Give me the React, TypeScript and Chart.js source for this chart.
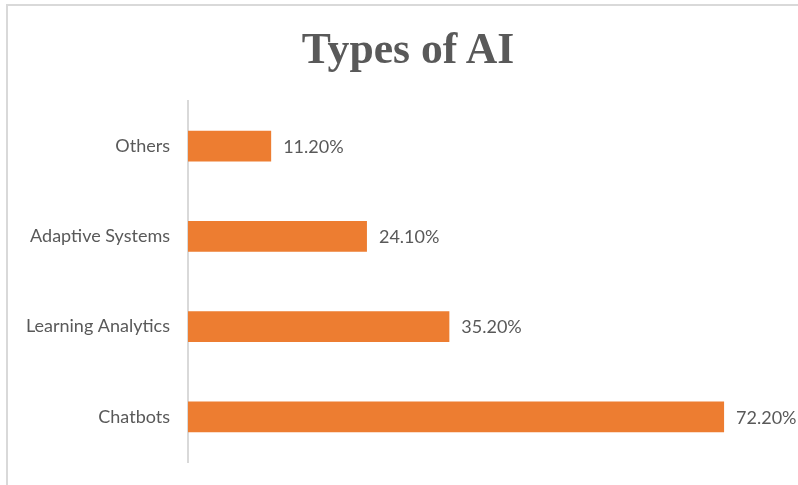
import React, { useEffect, useRef } from "react";
import { Chart, registerables } from "chart.js";

Chart.register(...registerables);

const categories = ["Others", "Adaptive Systems", "Learning Analytics", "Chatbots"];
const values = [11.2, 24.1, 35.2, 72.2];
const titleText = "Types of AI";

const labelPlugin = {
  id: "barValueLabels",
  afterDatasetsDraw(chart: any) {
    const ctx = chart.ctx;
    const meta = chart.getDatasetMeta(0);
    ctx.save();
    ctx.font = "18px Lato";
    ctx.fillStyle = "#595959";
    ctx.textAlign = "left";
    ctx.textBaseline = "middle";
    meta.data.forEach((bar: any, i: number) => {
      ctx.fillText(values[i].toFixed(2) + "%", bar.x + 12, bar.y + 1);
    });
    ctx.restore();
  },
};

export default function App() {
  const ref = useRef<HTMLCanvasElement>(null);
  useEffect(() => {
    if (!ref.current) return;
    const chart = new Chart(ref.current, {
      type: "bar",
      data: {
        labels: categories,
        datasets: [
          {
            data: values,
            backgroundColor: "#ED7D31",
            categoryPercentage: 1,
            barPercentage: 0.343,
          },
        ],
      },
      options: {
        indexAxis: "y",
        responsive: false,
        animation: false,
        layout: { padding: { left: 0, right: 16, top: 101, bottom: 23 } },
        plugins: { legend: { display: false }, tooltip: { enabled: false } },
        scales: {
          x: { min: 0, max: 80, display: false },
          y: {
            grid: { display: false, drawTicks: false },
            border: { display: true, color: "#d9d9d9", width: 2 },
            ticks: { color: "#595959", font: { family: "Lato", size: 18 }, padding: 18 },
            afterFit(scale: any) {
              scale.width = 188;
              scale.paddingTop = 0;
              scale.paddingBottom = 0;
            },
          },
        },
      },
      plugins: [labelPlugin],
    });
    return () => chart.destroy();
  }, []);

  return (
    <div style={{ position: "fixed", left: 0, top: 0, width: 798, height: 485, overflow: "hidden", background: "#fff" }}>
      <div
        style={{
          position: "absolute",
          left: 6,
          top: 4,
          width: 1000,
          height: 1000,
          border: "2px solid #d9d9d9",
        }}
      />
      <canvas ref={ref} width={798} height={485} style={{ position: "absolute", left: 0, top: 0 }} />
      <div
        style={{
          position: "absolute",
          left: 0,
          top: 18,
          width: 816,
          textAlign: "center",
          fontFamily: "'Liberation Serif', serif",
          fontWeight: "bold",
          fontSize: 45,
          lineHeight: "60px",
          color: "#595959",
          transform: "scaleX(0.97)",
          transformOrigin: "408px 0",
        }}
      >
        {titleText}
      </div>
    </div>
  );
}
